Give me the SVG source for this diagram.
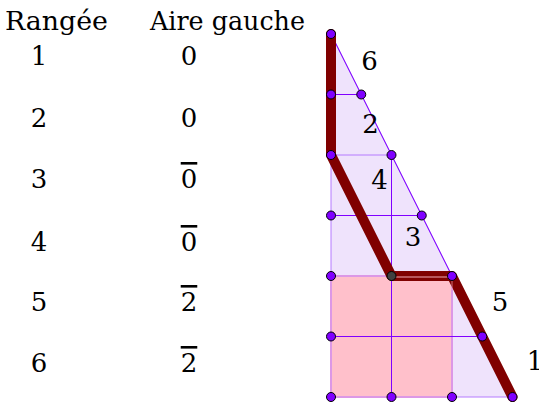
<svg xmlns="http://www.w3.org/2000/svg" width="539" height="402" viewBox="0 0 539 402">
<style>
text{font-family:'DejaVu Serif',serif;font-size:26px;fill:#000}
.t{text-anchor:middle}
.o{text-decoration:overline;text-decoration-thickness:1.2px}
.g{stroke:#8000ff;stroke-width:1;fill:none}
.d{fill:#8000ff;stroke:#000;stroke-width:1}
</style>
<rect width="539" height="402" fill="#fff"/>
<g id="table">
<text x="5" y="30" textLength="103" lengthAdjust="spacingAndGlyphs">Rangée</text>
<text x="150" y="30" textLength="155" lengthAdjust="spacingAndGlyphs">Aire gauche</text>
<text class="t" x="39" y="65">1</text><text class="t" x="189" y="65">0</text>
<text class="t" x="39" y="127">2</text><text class="t" x="189" y="127">0</text>
<text class="t" x="39" y="188">3</text><text class="t o" x="189" y="188">0</text>
<text class="t" x="39" y="251">4</text><text class="t o" x="189" y="251">0</text>
<text class="t" x="39" y="311">5</text><text class="t o" x="189" y="311">2</text>
<text class="t" x="39" y="372">6</text><text class="t o" x="189" y="372">2</text>
</g>
<g id="shape">
<polygon points="331,34 512.5,397 331,397" fill="#efe3fc" stroke="#b57bff" stroke-width="1"/>
<line x1="331" y1="34" x2="512.5" y2="397" class="g"/>
<rect x="331" y="276" width="121" height="121" fill="#ffc0cb" stroke="#dc98e6" stroke-width="2"/>
<g class="g">
<line x1="331" y1="94.5" x2="361.25" y2="94.5"/>
<line x1="331" y1="155" x2="391.5" y2="155" stroke="#b57bff"/>
<line x1="331" y1="215.5" x2="421.75" y2="215.5"/>
<line x1="331" y1="336.5" x2="482.25" y2="336.5"/>
<line x1="391.5" y1="155" x2="391.5" y2="397"/>
</g>
</g>
<g id="connectors">
<polyline points="331,34 331,155 391.5,276 452,276 512.5,397" fill="none" stroke="#800000" stroke-width="10" stroke-linejoin="round" stroke-linecap="round"/>
<line x1="391.5" y1="277" x2="452" y2="277" stroke="#ffc0cb" stroke-width="1.5" opacity="0.6"/>
<line x1="452" y1="277" x2="452" y2="290" stroke="#ffc0cb" stroke-width="1.5" opacity="0.4"/>
</g>
<g id="labels">
<text class="t" x="369.5" y="70">6</text>
<text class="t" x="370.5" y="133">2</text>
<text class="t" x="379.5" y="189">4</text>
<text class="t" x="413" y="246">3</text>
<text class="t" x="500" y="311">5</text>
<text class="t" x="535" y="370">1</text>
</g>
<g id="points">
<circle class="d" cx="331" cy="34" r="4.5"/>
<circle class="d" cx="331" cy="94.5" r="4.5"/>
<circle class="d" cx="361.25" cy="94.5" r="4.5"/>
<circle class="d" cx="331" cy="155" r="4.5"/>
<circle class="d" cx="391.5" cy="155" r="4.5"/>
<circle class="d" cx="331" cy="215.5" r="4.5"/>
<circle class="d" cx="421.75" cy="215.5" r="4.5"/>
<circle class="d" cx="331" cy="276" r="4.5"/>
<circle cx="391.5" cy="276" r="4.5" fill="#404040" stroke="#000" stroke-width="1"/>
<circle class="d" cx="452" cy="276" r="4.5"/>
<circle class="d" cx="331" cy="336.5" r="4.5"/>
<circle class="d" cx="482.25" cy="336.5" r="4.5"/>
<circle class="d" cx="331" cy="397" r="4.5"/>
<circle class="d" cx="391.5" cy="397" r="4.5"/>
<circle class="d" cx="452" cy="397" r="4.5"/>
<circle class="d" cx="512.5" cy="397" r="4.5"/>
</g>
</svg>
